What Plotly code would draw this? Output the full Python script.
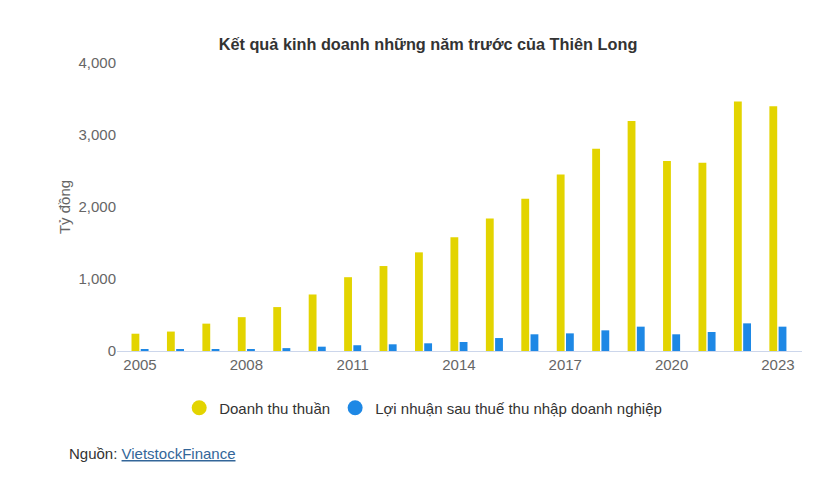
import plotly.graph_objects as go

nam = list(range(2005, 2024))
doanh_thu = [240, 270, 380, 470, 610, 785, 1025, 1180, 1370, 1580,
             1840, 2115, 2450, 2810, 3195, 2640, 2615, 3465, 3400]
loi_nhuan = [20, 20, 20, 25, 40, 60, 80, 93, 107, 125,
             180, 232, 245, 287, 338, 232, 264, 384, 338]
nhan_x = [2005, 2008, 2011, 2014, 2017, 2020, 2023]
nhan_y = [0, 1000, 2000, 3000, 4000]

VANG = "#e3d400"
XANH = "#1e88e5"
FONT = "Liberation Sans, Arial, sans-serif"

# page body has an 8px margin, so the figure is a bit smaller than the window
W, H = 817, 474

fig = go.Figure()
fig.add_trace(go.Bar(x=nam, y=doanh_thu, name="Doanh thu thuần",
                     marker=dict(color=VANG, line=dict(width=0)), showlegend=False))
fig.add_trace(go.Bar(x=nam, y=loi_nhuan, name="Lợi nhuận sau thuế thu nhập doanh nghiệp",
                     marker=dict(color=XANH, line=dict(width=0)), showlegend=False))

# legend entries with round markers
for ten, mau in [("Doanh thu thuần", VANG),
                 ("Lợi nhuận sau thuế thu nhập doanh nghiệp", XANH)]:
    fig.add_trace(go.Scatter(x=[None], y=[None], mode="markers", name=ten,
                             marker=dict(color=mau, size=15, symbol="circle")))

fig.update_layout(
    width=W, height=H,
    margin=dict(l=109, r=23, t=55, b=131),
    paper_bgcolor="white", plot_bgcolor="white",
    font=dict(family=FONT, size=15, color="#333333"),
    title=dict(text="<b>Kết quả kinh doanh những năm trước của Thiên Long</b>",
               x=(428 - 8) / W, xanchor="center", y=1 - 36 / H, yanchor="middle",
               font=dict(size=16.3, color="#333333")),
    barmode="group", bargap=0.48, bargroupgap=0.15,
    legend=dict(orientation="h", x=0.447, xanchor="center", y=-0.198, yanchor="middle",
                font=dict(size=15, color="#333333"), traceorder="normal"),
    xaxis=dict(range=[2004.35, 2023.68], tickvals=nhan_x, ticktext=[str(v) for v in nhan_x],
               showgrid=False, zeroline=False, showline=True, linecolor="#ccd6eb",
               linewidth=1, ticks="", tickfont=dict(size=15, color="#666666")),
    yaxis=dict(range=[0, 4000], tickvals=nhan_y, tickformat=",", showgrid=False,
               zeroline=False, showline=False, ticks="", ticklen=0,
               tickfont=dict(size=15, color="#666666"),
               title=dict(text="Tỷ đồng", font=dict(size=15, color="#666666"), standoff=4)),
)

fig.add_annotation(
    xref="paper", yref="paper", x=(67 - 117) / 685, y=(351 - 453) / 288,
    xanchor="left", yanchor="middle", showarrow=False,
    text='Nguồn: <a href="https://finance.vietstock.vn/" style="color:#336699">'
         '<span style="text-decoration:underline">VietstockFinance</span></a>',
    font=dict(size=15, color="#333333"),
)

fig.write_html("out.html")
